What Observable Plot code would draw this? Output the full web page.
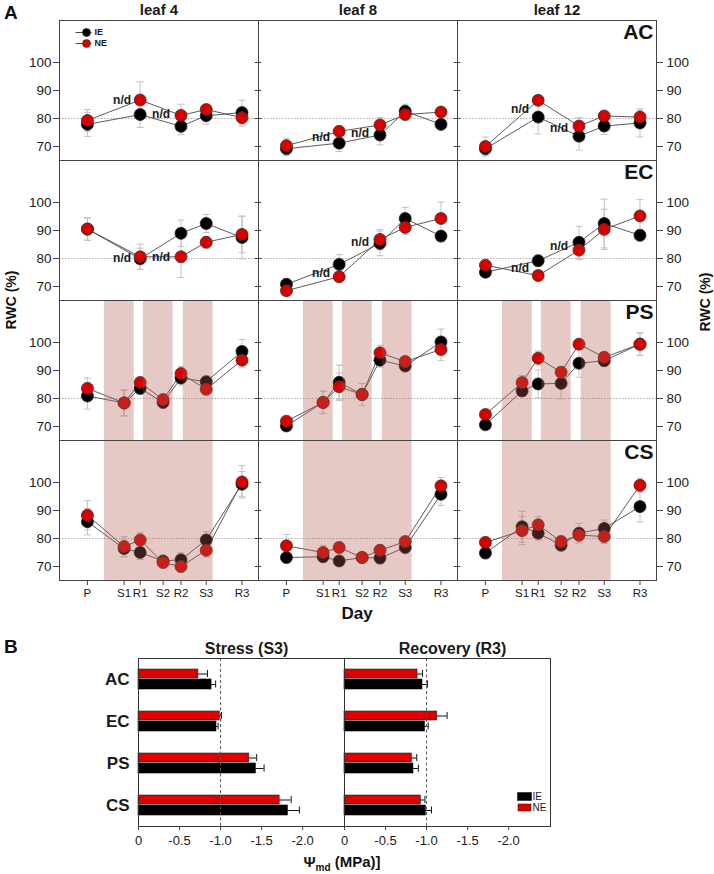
<!DOCTYPE html>
<html><head><meta charset="utf-8">
<script src="https://cdn.jsdelivr.net/npm/d3@7"></script>
<script src="https://cdn.jsdelivr.net/npm/@observablehq/plot@0.6"></script>
<style>
body{margin:0;background:#fff;}
#fig{width:714px;}
svg{display:block;}
</style></head><body><div id="fig"></div>
<script>
// ---------- Panel A data ----------
const days = ["P","S1","R1","S2","R2","S3","R3"];
const dayNum = [0, 8, 11.5, 16.5, 20.4, 25.9, 33.7];
const leaves = ["leaf 4","leaf 8","leaf 12"];
const treatments = ["AC","EC","PS","CS"];
const series = ["IE","NE"];
const yTicks = [70, 80, 90, 100];

// rows: leaf 4, leaf 8, leaf 12 ; columns: days (null = n/d)
const AC_IE = [[77.9,null,81.4,null,77.2,81.0,82.1],[69.2,null,71.2,null,74.1,82.6,77.9],[69.2,null,80.5,null,73.7,77.3,78.4]];
const AC_IE_err = [[4.3,null,4.6,null,3.0,3.0,4.4],[2.5,null,3.0,null,3.5,2.5,1.5],[2.5,null,6.0,null,5.0,3.0,5.0]];
const AC_NE = [[79.3,null,86.6,null,81.1,83.2,80.3],[70.3,null,75.4,null,77.7,81.4,82.3],[70.0,null,86.5,null,77.3,80.9,80.5]];
const AC_NE_err = [[3.9,null,6.5,null,4.0,1.5,3.0],[2.5,null,2.0,null,2.6,1.5,1.5],[3.4,null,1.5,null,3.0,1.5,2.5]];

const EC_IE = [[90.5,null,79.9,null,89.0,92.5,87.5],[70.8,null,77.9,null,85.4,94.3,88.0],[75.1,null,79.2,null,85.8,92.5,88.3]];
const EC_IE_err = [[4.0,null,3.8,null,4.7,3.2,7.6],[2.0,null,3.5,null,4.4,3.9,2.0],[1.5,null,2.0,null,5.7,8.7,2.0]];
const EC_NE = [[90.5,null,80.6,null,80.6,85.8,88.6],[68.5,null,73.5,null,86.8,91.1,94.3],[77.6,null,73.9,null,83.0,90.4,95.2]];
const EC_NE_err = [[4.0,null,4.5,null,7.4,2.0,6.5],[1.5,null,1.5,null,3.6,2.5,5.9],[1.5,null,1.5,null,3.4,7.2,5.9]];

const PS_IE = [[80.9,78.4,83.6,78.6,87.3,86.0,96.8],[70.2,78.6,85.8,81.4,93.7,91.6,100.2],[70.6,82.7,85.2,85.4,92.6,93.5,99.4]];
const PS_IE_err = [[4.7,4.6,2.0,2.0,2.5,2.0,4.3],[1.5,4.0,6.1,2.0,2.5,1.5,4.6],[1.0,2.0,5.0,5.5,5.0,2.0,4.0]];
const PS_NE = [[83.6,78.4,85.7,79.6,88.9,83.3,93.7],[71.9,78.6,84.2,81.4,96.3,93.2,97.5],[74.3,85.7,94.4,89.4,99.4,94.7,99.4]];
const PS_NE_err = [[3.7,4.6,2.0,2.0,2.5,2.0,2.7],[1.5,4.0,4.9,4.0,2.7,1.5,4.0],[1.5,2.5,2.5,2.0,1.5,2.0,4.0]];

const CS_IE = [[86.0,76.4,75.0,72.0,72.4,79.5,99.4],[73.2,73.5,72.0,73.2,73.0,76.8,95.8],[74.8,84.2,81.9,77.6,81.9,83.6,91.4]];
const CS_IE_err = [[4.7,3.0,2.5,1.5,2.5,3.0,4.5],[2.0,2.0,1.5,1.5,2.0,2.0,4.0],[2.0,5.5,2.5,2.0,3.5,3.0,5.5]];
const CS_NE = [[88.3,77.1,79.5,71.4,70.0,75.8,100.2],[77.4,75.0,76.8,73.2,75.8,78.9,98.8],[78.6,82.8,84.9,78.9,81.2,80.7,99.0]];
const CS_NE_err = [[5.2,3.5,2.5,1.5,2.0,2.5,5.8],[4.0,2.5,2.0,1.5,2.0,1.5,3.0],[2.0,5.0,3.0,2.0,2.5,2.5,2.5]];

// n/d label heights at S1 and S2 (per leaf)
const AC_nd = [[86.5,81.4],[73.4,74.9],[83.2,76.7]];
const EC_nd = [[80.0,80.4],[74.9,86.0],[76.7,84.4]];
const ndDays = ["S1","S2"];

// stress periods (day units)
const PS_stress = [[3.7,10.2],[12.2,18.7],[20.9,27.4]];
const CS_stress = [[3.7,27.4]];

// ---------- Panel B data ----------
const phases = ["Stress (S3)","Recovery (R3)"];
const cats = ["AC","EC","PS","CS"];
const stressNE = [-0.73,-0.99,-1.35,-1.72];
const stressNE_err = [0.11,0.02,0.09,0.14];
const stressIE = [-0.89,-0.95,-1.43,-1.82];
const stressIE_err = [0.05,0.02,0.10,0.14];
const recNE = [-0.89,-1.13,-0.82,-0.93];
const recNE_err = [0.06,0.12,0.06,0.05];
const recIE = [-0.95,-0.98,-0.84,-0.99];
const recIE_err = [0.06,0.04,0.06,0.07];

// ---------- build tables ----------
const vals = {AC:{IE:AC_IE,NE:AC_NE},EC:{IE:EC_IE,NE:EC_NE},PS:{IE:PS_IE,NE:PS_NE},CS:{IE:CS_IE,NE:CS_NE}};
const errs = {AC:{IE:AC_IE_err,NE:AC_NE_err},EC:{IE:EC_IE_err,NE:EC_NE_err},PS:{IE:PS_IE_err,NE:PS_NE_err},CS:{IE:CS_IE_err,NE:CS_NE_err}};
const pts = [];
treatments.forEach(t => leaves.forEach((lf, li) => series.forEach(s => days.forEach((d, di) => {
  const v = vals[t][s][li][di];
  if (v == null) return;
  pts.push({trt:t, leaf:lf, series:s, day:d, x:dayNum[di], value:v, err:errs[t][s][li][di]});
}))));
const nd = [];
[["AC",AC_nd],["EC",EC_nd]].forEach(([t, arr]) => leaves.forEach((lf, li) => ndDays.forEach((d, k) => {
  nd.push({trt:t, leaf:lf, x:dayNum[days.indexOf(d)], y:arr[li][k]});
})));
const bands = [];
PS_stress.forEach(([a,b]) => bands.push({trt:"PS", x1:a, x2:b}));
CS_stress.forEach(([a,b]) => bands.push({trt:"CS", x1:a, x2:b}));
const yDomain = [65, 115];
// inner-border tick marks (left edge of leaf 8/12, right edge of leaf 4/8)
const innerL = [], innerR = [];
treatments.forEach(t => yTicks.forEach(v => {
  ["leaf 8","leaf 12"].forEach(lf => innerL.push({trt:t, leaf:lf, y:v}));
  ["leaf 4","leaf 8"].forEach(lf => innerR.push({trt:t, leaf:lf, y:v}));
}));

const FONT = "'Liberation Sans', Arial, Helvetica, sans-serif";
const RED = "#d90000";
const W = 714, mL = 58, mR = 57;
const facetW = (W - mL - mR) / 3;
const errCap = {draw(ctx){ ctx.moveTo(-3.5,0); ctx.lineTo(3.5,0); }};
const legLine = {draw(ctx){ ctx.moveTo(-11,0); ctx.lineTo(5,0); }};
const F = {fx:"leaf", fy:"trt"};
const legF = {fx:() => "leaf 4", fy:() => "AC", frameAnchor:"top-left"};

const plotA = Plot.plot({
  width:W, height:625,
  marginLeft:mL, marginRight:mR, marginTop:20, marginBottom:45,
  style:{fontFamily:FONT, background:"white", color:"#1a1a1a", overflow:"visible"},
  fx:{domain:leaves, padding:0, label:null},
  fy:{domain:treatments, padding:0, label:null, axis:null},
  x:{domain:[-6.09, 37.3], label:null},
  y:{domain:yDomain, label:null},
  marks:[
    Plot.ruleY([80], {stroke:"#9a9a9a", strokeDasharray:"1.5,1.5", strokeWidth:0.8}),
    Plot.ruleX(pts, {...F, x:"x", y1:d => d.value - d.err, y2:d => d.value + d.err, stroke:"#c2c2c2", strokeWidth:1}),
    Plot.dot(pts, {...F, x:"x", y:d => d.value + d.err, symbol:errCap, stroke:"#c2c2c2", fill:"none", strokeWidth:1}),
    Plot.dot(pts, {...F, x:"x", y:d => d.value - d.err, symbol:errCap, stroke:"#c2c2c2", fill:"none", strokeWidth:1}),
    Plot.line(pts, {...F, x:"x", y:"value", z:"series", stroke:"#4a4a4a", strokeWidth:0.9}),
    Plot.dot(pts.filter(d => d.series === "IE"), {...F, x:"x", y:"value", r:6, fill:"#000", stroke:"#222", strokeWidth:0.8}),
    Plot.dot(pts.filter(d => d.series === "NE"), {...F, x:"x", y:"value", r:6, fill:RED, stroke:"#333", strokeWidth:0.8}),
    Plot.text(nd, {...F, x:"x", y:"y", dx:-2, text:() => "n/d", fontSize:12, fontWeight:"bold", fill:"#1a1a1a"}),
    Plot.rect(bands, {fy:"trt", x1:"x1", x2:"x2", y1:() => yDomain[0], y2:() => yDomain[1], fill:"rgb(180,90,75)", fillOpacity:0.33}),
    Plot.tickY(innerL, {...F, y:"y", insetRight:facetW - 4, stroke:"#444"}),
    Plot.tickY(innerR, {...F, y:"y", insetLeft:facetW - 4, stroke:"#444"}),
    Plot.frame({stroke:"#444", strokeWidth:1}),
    Plot.text(treatments, {fx:() => "leaf 12", fy:d => d, text:d => d, frameAnchor:"top-right", dx:-3, dy:4, fontSize:21, fontWeight:"bold", fill:"#111"}),
    // legend
    Plot.dot([0], {...legF, dx:27, dy:12, symbol:legLine, stroke:"#333", fill:"none", strokeWidth:0.9}),
    Plot.dot([0], {...legF, dx:27, dy:12, r:4, fill:"#000", stroke:"#222", strokeWidth:0.6}),
    Plot.text(["IE"], {...legF, dx:35, dy:12, text:d => d, textAnchor:"start", lineAnchor:"middle", fontSize:9, fontWeight:"bold"}),
    Plot.dot([0], {...legF, dx:27, dy:23, symbol:legLine, stroke:"#333", fill:"none", strokeWidth:0.9}),
    Plot.dot([0], {...legF, dx:27, dy:23, r:4, fill:RED, stroke:"#333", strokeWidth:0.6}),
    Plot.text(["NE"], {...legF, dx:35, dy:23, text:d => d, textAnchor:"start", lineAnchor:"middle", fontSize:9, fontWeight:"bold"}),
    // axes
    Plot.axisY({anchor:"left", ticks:yTicks, tickSize:6, tickPadding:2, fontSize:13.5, label:null, stroke:"#444"}),
    Plot.axisY({anchor:"right", ticks:yTicks, tickSize:6, tickPadding:4, fontSize:13.5, label:null, stroke:"#444"}),
    Plot.axisX({anchor:"bottom", ticks:dayNum, tickFormat:d => days[dayNum.indexOf(d)], tickSize:5, tickPadding:3, fontSize:11.5, label:null, stroke:"#444"}),
    Plot.axisFx({anchor:"top", tickSize:0, tickPadding:6, fontSize:15, fontWeight:"bold", label:null})
  ]
});

// ---------- Panel B ----------
const bRows = [];
[[stressNE,stressNE_err,stressIE,stressIE_err],[recNE,recNE_err,recIE,recIE_err]].forEach((arrs, pi) => {
  cats.forEach((c, ci) => {
    bRows.push({phase:phases[pi], cat:c, series:"NE", value:arrs[0][ci], err:arrs[1][ci]});
    bRows.push({phase:phases[pi], cat:c, series:"IE", value:arrs[2][ci], err:arrs[3][ci]});
  });
});
const bNE = bRows.filter(d => d.series === "NE");
const bIE = bRows.filter(d => d.series === "IE");
const rectSym = {draw(ctx){ ctx.rect(-6.5,-3.5,13,7); }};
const legB = {fx:() => "Recovery (R3)", frameAnchor:"bottom-right"};

const plotB = Plot.plot({
  width:W, height:249,
  marginLeft:137, marginRight:164, marginTop:33, marginBottom:48,
  style:{fontFamily:FONT, background:"white", color:"#1a1a1a", overflow:"visible"},
  fx:{domain:phases, padding:0, label:null},
  x:{domain:[0, -2.51], label:null},
  y:{domain:cats, padding:0, label:null},
  marks:[
    Plot.barX(bNE, {fx:"phase", y:"cat", x:"value", fill:"#dd0000", stroke:"#222", strokeWidth:0.6, insetTop:11, insetBottom:22}),
    Plot.barX(bIE, {fx:"phase", y:"cat", x:"value", fill:"#000", stroke:"#000", strokeWidth:0.6, insetTop:21, insetBottom:11}),
    Plot.ruleY(bNE, {fx:"phase", y:"cat", x1:"value", x2:d => d.value - d.err, dy:-5.5, stroke:"#111", strokeWidth:1}),
    Plot.tickX(bNE, {fx:"phase", y:"cat", x:d => d.value - d.err, insetTop:12, insetBottom:23, stroke:"#111", strokeWidth:1}),
    Plot.ruleY(bIE, {fx:"phase", y:"cat", x1:"value", x2:d => d.value - d.err, dy:5, stroke:"#111", strokeWidth:1}),
    Plot.tickX(bIE, {fx:"phase", y:"cat", x:d => d.value - d.err, insetTop:22.5, insetBottom:12.5, stroke:"#111", strokeWidth:1}),
    Plot.ruleX([-1], {stroke:"#555", strokeDasharray:"3,2.5", strokeWidth:1}),
    Plot.frame({stroke:"#333", strokeWidth:1}),
    // legend
    Plot.dot([0], {...legB, dx:-26, dy:-30, symbol:rectSym, fill:"#000", stroke:"#000"}),
    Plot.dot([0], {...legB, dx:-26, dy:-19, symbol:rectSym, fill:"#dd0000", stroke:"#222", strokeWidth:0.6}),
    Plot.text(["IE"], {...legB, dx:-18, dy:-30, text:d => d, textAnchor:"start", lineAnchor:"middle", fontSize:10}),
    Plot.text(["NE"], {...legB, dx:-18, dy:-19, text:d => d, textAnchor:"start", lineAnchor:"middle", fontSize:10}),
    // axes
    Plot.axisY({anchor:"left", tickSize:0, tickPadding:9, fontSize:17, fontWeight:"bold", label:null}),
    Plot.axisX({anchor:"bottom", ticks:[0,-0.5,-1,-1.5,-2], tickFormat:d => d === 0 ? "0" : d.toFixed(1), tickSize:4, fontSize:13, label:null, stroke:"#444"}),
    Plot.axisFx({anchor:"top", tickSize:0, tickPadding:5, dx:5, fontSize:16, fontWeight:"bold", label:null})
  ]
});

const fig = document.getElementById("fig");
fig.appendChild(plotA);
fig.appendChild(plotB);

// titles added to the SVGs
const sa = d3.select(plotA);
const tA = sa.append("g").attr("font-family", FONT).attr("fill", "#111").attr("font-weight", "bold");
tA.append("text").attr("x", 4).attr("y", 19).attr("text-anchor", "start").attr("font-size", 19).text("A");
tA.append("text").attr("transform", "translate(11,300) rotate(-90)").attr("text-anchor", "middle").attr("dominant-baseline", "central").attr("font-size", 14).text("RWC (%)");
tA.append("text").attr("transform", "translate(705,302) rotate(-90)").attr("text-anchor", "middle").attr("dominant-baseline", "central").attr("font-size", 14).text("RWC (%)");
tA.append("text").attr("x", 357).attr("y", 619).attr("text-anchor", "middle").attr("font-size", 17).text("Day");

const sb = d3.select(plotB);
const tB = sb.append("g").attr("font-family", FONT).attr("fill", "#111").attr("font-weight", "bold");
tB.append("text").attr("x", 4).attr("y", 28).attr("text-anchor", "start").attr("font-size", 19).text("B");
const psi = tB.append("text").attr("x", 342).attr("y", 242).attr("text-anchor", "middle").attr("font-size", 15);
psi.append("tspan").text("Ψ");
psi.append("tspan").attr("font-size", 10).attr("dy", 4).text("md");
psi.append("tspan").attr("dy", -4).text(" (MPa)]");
</script></body></html>
